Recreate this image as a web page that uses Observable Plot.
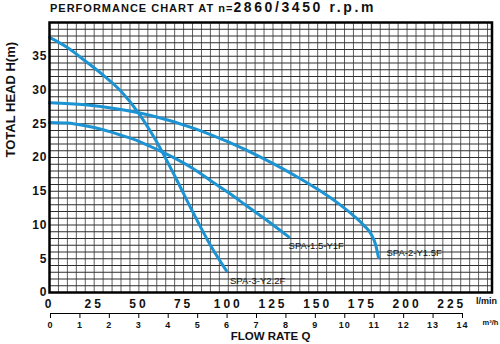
<!DOCTYPE html>
<html>
<head>
<meta charset="utf-8">
<script src="https://cdn.jsdelivr.net/npm/d3@7"></script>
<script src="https://cdn.jsdelivr.net/npm/@observablehq/plot@0.6"></script>
<style>
  body { margin: 0; background: #fff; font-family: "Liberation Sans", Arial, sans-serif; }
  #title { height: 20px; padding-left: 50px; line-height: 14px; font-weight: bold; white-space: nowrap; color: #111; overflow: visible; }
  .t1 { font-size: 11px; letter-spacing: 1px; }
  .t2 { font-size: 14px; letter-spacing: 2.6px; }
  #main svg, #sec svg { display: block; }
  #main g[aria-label="x-axis tick label"] { letter-spacing: 3px; }
  #main g[aria-label="y-axis tick label"] { letter-spacing: 1px; }
  #main g[aria-label="curve labels"] { letter-spacing: 0.4px; }
  #main g[aria-label="y title"] { letter-spacing: 0.5px; }
  #sec g[aria-label="x-axis tick label"] { letter-spacing: 1px; }
  #sec g[aria-label="x title"] { letter-spacing: 0.6px; }
</style>
</head>
<body>
<div id="title"><span class="t1">PERFORMANCE CHART AT n=</span><span class="t2">2860/3450 r.p.m</span></div>
<div id="main"></div>
<div id="sec"></div>
<script>
// Pump names
const pumps = ["SPA-3-Y2.2F", "SPA-1.5-Y1F", "SPA-2-Y1.5F"];

// SPA-3-Y2.2F : flow (l/min) and head (m)
const q3 = [0, 10, 20, 30, 40, 50, 60, 70, 80, 90, 99];
const h3 = [37.8, 36.3, 34.3, 32.2, 29.8, 26.5, 22.3, 17.3, 12.0, 7.0, 3.2];

// SPA-1.5-Y1F
const q15 = [0, 10, 20, 30, 40, 50, 60, 70, 80, 90, 100, 110, 120, 134];
const h15 = [25.2, 25.1, 24.7, 24.1, 23.3, 22.4, 21.2, 19.9, 18.4, 16.6, 14.8, 12.9, 11.0, 8.2];

// SPA-2-Y1.5F
const q2 = [0, 20, 40, 60, 80, 100, 120, 140, 160, 170, 176, 180, 182.5, 184];
const h2 = [28.1, 27.8, 27.1, 26.0, 24.4, 22.3, 19.8, 16.9, 13.5, 11.4, 9.9, 8.6, 7.0, 5.2];

// Tick labels
const xTicksLmin = [0, 25, 50, 75, 100, 125, 150, 175, 200, 225];
const xTicksM3h = [0, 1, 2, 3, 4, 5, 6, 7, 8, 9, 10, 11, 12, 13, 14];
const yTicks = [0, 5, 10, 15, 20, 25, 30, 35];

const series = [[pumps[0], q3, h3], [pumps[1], q15, h15], [pumps[2], q2, h2]];
const rows = series.flatMap(([pump, qs, hs]) => qs.map((q, i) => ({pump, q, h: hs[i]})));
const ends = series.map(([pump, qs, hs]) => ({pump, q: qs[qs.length - 1], h: hs[hs.length - 1]}));

const font = "Liberation Sans, Arial, sans-serif";
const blue = "#1c93d3";

const labelOffsets = {
  "SPA-3-Y2.2F": [3.5, 10.5],
  "SPA-1.5-Y1F": [-0.5, 8.5],
  "SPA-2-Y1.5F": [8, -4]
};

const labelMarks = ends.map(e => Plot.text([e], {
  x: "q", y: "h", text: "pump",
  dx: labelOffsets[e.pump][0], dy: labelOffsets[e.pump][1],
  textAnchor: "start", lineAnchor: "middle",
  fontSize: 9.5, fill: "#111", ariaLabel: "curve labels"
}));

const main = Plot.plot({
  width: 500, height: 290,
  marginTop: 2, marginBottom: 18, marginLeft: 49, marginRight: 8.5,
  style: {fontFamily: font, background: "white", overflow: "visible", color: "#111"},
  x: {domain: [0, 247.5]},
  y: {domain: [0, 40]},
  marks: [
    Plot.gridX(d3.range(0, 247.5, 5), {stroke: "#5f5f5f", strokeOpacity: 1, strokeWidth: 1}),
    Plot.gridY(d3.range(0, 41, 1), {stroke: "#2e2e2e", strokeOpacity: 1, strokeWidth: 1}),
    Plot.line(rows, {x: "q", y: "h", z: "pump", stroke: blue, strokeWidth: 3, curve: "monotone-x"}),
    Plot.frame({stroke: "#000", strokeWidth: 2.5}),
    Plot.axisX(xTicksLmin, {tickSize: 0, tickPadding: 7, fontSize: 12, fontWeight: "bold", label: null}),
    Plot.axisY(yTicks, {tickSize: 0, tickPadding: 2, fontSize: 12, fontWeight: "bold", label: null}),
    Plot.text(["TOTAL HEAD H(m)"], {frameAnchor: "left", dx: -39, rotate: -90, fontSize: 13, fontWeight: "bold", ariaLabel: "y title"}),
    Plot.text(["l/min"], {frameAnchor: "bottom-right", textAnchor: "end", dx: 5, dy: 11, fontSize: 9, fontWeight: "bold", ariaLabel: "unit"}),
    ...labelMarks
  ]
});
document.getElementById("main").append(main);

const sec = Plot.plot({
  width: 500, height: 34,
  marginTop: 0, marginBottom: 31, marginLeft: 50, marginRight: 38,
  style: {fontFamily: font, background: "white", overflow: "visible", color: "#111"},
  x: {domain: [0, 14]},
  y: {domain: [0, 1], axis: null},
  marks: [
    Plot.ruleY([0], {stroke: "#000", strokeWidth: 1}),
    Plot.axisX(xTicksM3h, {tickSize: 5, tickPadding: 3, fontSize: 9, fontWeight: "bold", label: null, stroke: "#000"}),
    Plot.text(["m³/h"], {frameAnchor: "bottom-right", textAnchor: "start", dx: 20, dy: 11, fontSize: 7.5, fontWeight: "bold", ariaLabel: "unit2"}),
    Plot.text(["FLOW RATE Q"], {frameAnchor: "bottom", dx: 14, dy: 26, fontSize: 11.5, fontWeight: "bold", ariaLabel: "x title"})
  ]
});
document.getElementById("sec").append(sec);
</script>
</body>
</html>
